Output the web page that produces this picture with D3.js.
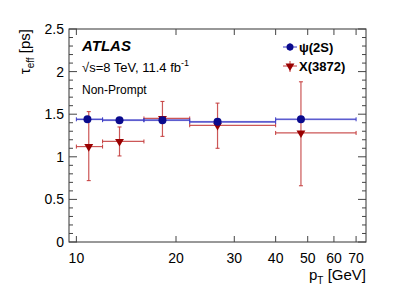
<!DOCTYPE html>
<html>
<head>
<meta charset="utf-8">
<script src="https://cdn.jsdelivr.net/npm/d3@7"></script>
<style>
  body { margin: 0; background: #fff; }
  text { font-family: "Liberation Sans", Arial, Helvetica, sans-serif; }
</style>
</head>
<body>
<div id="chart"></div>
<script>
// pT bins [GeV]
var binLo = [10, 12, 16, 22, 40];
var binHi = [12, 16, 22, 40, 70];

// psi(2S)
var psiPt = [10.8, 13.5, 18.2, 26.7, 47.7];
var psiTau = [1.44, 1.43, 1.43, 1.41, 1.44];
var psiErr = [0.03, 0.02, 0.02, 0.02, 0.03];

// X(3872)
var xPt = [10.9, 13.5, 18.2, 26.7, 47.7];
var xTau = [1.12, 1.18, 1.45, 1.37, 1.28];
var xErrUp = [0.41, 0.17, 0.20, 0.26, 0.60];
var xErrDn = [0.40, 0.17, 0.21, 0.27, 0.62];

var xTicks = [10, 20, 30, 40, 50, 60, 70];
var yTicks = [0, 0.5, 1, 1.5, 2, 2.5];

var W = 407, H = 292;
var margin = {left: 69, right: 41, top: 29, bottom: 50};
var iw = W - margin.left - margin.right, ih = H - margin.top - margin.bottom;

var svg = d3.select("#chart").append("svg").attr("width", W).attr("height", H);
var g = svg.append("g").attr("transform", "translate(" + margin.left + "," + margin.top + ")");

var x = d3.scaleLog().domain([9.5, 75]).range([0, iw]);
var y = d3.scaleLinear().domain([0, 2.5]).range([ih, 0]);

// frame
g.append("rect").attr("width", iw).attr("height", ih)
  .attr("fill", "none").attr("stroke", "#333").attr("stroke-width", 1);

// y ticks (left and right)
var yMinor = d3.range(0, 2.51, 0.1);
yMinor.forEach(function(v) {
  var major = Math.abs(v * 2 - Math.round(v * 2)) < 1e-6;
  var len = major ? 8 : 4;
  g.append("line").attr("x1", 0).attr("x2", len).attr("y1", y(v)).attr("y2", y(v)).attr("stroke", "#444");
  g.append("line").attr("x1", iw).attr("x2", iw - len).attr("y1", y(v)).attr("y2", y(v)).attr("stroke", "#444");
});
g.selectAll(".ylab").data(yTicks).enter().append("text")
  .attr("x", -5).attr("y", d => y(d) + 5)
  .attr("text-anchor", "end").attr("font-size", 14).text(d => d);

// x ticks (bottom and top)
xTicks.forEach(function(v) {
  g.append("line").attr("x1", x(v)).attr("x2", x(v)).attr("y1", ih).attr("y2", ih - 6).attr("stroke", "#444");
  g.append("line").attr("x1", x(v)).attr("x2", x(v)).attr("y1", 0).attr("y2", 6).attr("stroke", "#444");
});
g.selectAll(".xlab").data(xTicks).enter().append("text")
  .attr("x", d => x(d)).attr("y", ih + 21)
  .attr("text-anchor", "middle").attr("font-size", 14).text(d => d);

// axis titles
var xt = svg.append("text").attr("x", margin.left + iw).attr("y", H - 12)
  .attr("text-anchor", "end").attr("font-size", 15);
xt.append("tspan").text("p");
xt.append("tspan").attr("font-size", 10).attr("dy", 4).text("T");
xt.append("tspan").attr("dy", -4).text(" [GeV]");

var yt = svg.append("text").attr("transform", "translate(30," + margin.top + ") rotate(-90)")
  .attr("text-anchor", "end").attr("font-size", 15);
yt.append("tspan").text("τ");
yt.append("tspan").attr("font-size", 10).attr("dy", 4).text("eff");
yt.append("tspan").attr("dy", -4).text(" [ps]");

// X(3872) points
var red = "#c43a3a";
var xs = g.append("g");
xTau.forEach(function(t, i) {
  var cy = y(t);
  xs.append("line").attr("x1", x(binLo[i])).attr("x2", x(binHi[i])).attr("y1", cy).attr("y2", cy)
    .attr("stroke", red).attr("stroke-width", 1.2).attr("opacity", 0.85);
  xs.append("line").attr("x1", x(xPt[i])).attr("x2", x(xPt[i])).attr("y1", y(t + xErrUp[i])).attr("y2", y(t - xErrDn[i]))
    .attr("stroke", red).attr("stroke-width", 1.2).attr("opacity", 0.85);
  [y(t + xErrUp[i]), y(t - xErrDn[i])].forEach(function(yy) {
    xs.append("line").attr("x1", x(xPt[i]) - 2).attr("x2", x(xPt[i]) + 2).attr("y1", yy).attr("y2", yy).attr("stroke", red);
  });
  [x(binLo[i]), x(binHi[i])].forEach(function(xx) {
    xs.append("line").attr("x1", xx).attr("x2", xx).attr("y1", cy - 2).attr("y2", cy + 2).attr("stroke", red);
  });
});

// psi(2S) points
var blue = "#3b3bc4";
var ps = g.append("g");
psiTau.forEach(function(t, i) {
  var cy = y(t);
  ps.append("rect").attr("x", x(binLo[i])).attr("width", x(binHi[i]) - x(binLo[i]))
    .attr("y", y(t + 0.012)).attr("height", y(t - 0.012) - y(t + 0.012))
    .attr("fill", "#9a9ae6").attr("opacity", 0.6);
  ps.append("line").attr("x1", x(binLo[i])).attr("x2", x(binHi[i])).attr("y1", cy).attr("y2", cy)
    .attr("stroke", blue).attr("stroke-width", 1.1);
  ps.append("line").attr("x1", x(psiPt[i])).attr("x2", x(psiPt[i])).attr("y1", y(t + psiErr[i])).attr("y2", y(t - psiErr[i]))
    .attr("stroke", blue);
  [x(binLo[i]), x(binHi[i])].forEach(function(xx) {
    ps.append("line").attr("x1", xx).attr("x2", xx).attr("y1", cy - 2).attr("y2", cy + 2).attr("stroke", blue);
  });
});

var tri = d3.symbol().type(d3.symbolTriangle).size(34);
xs.selectAll(".m").data(xTau).enter().append("path")
  .attr("d", tri).attr("fill", "#990000")
  .attr("transform", (d, i) => "translate(" + x(xPt[i]) + "," + y(d) + ") rotate(180)");
ps.selectAll(".m").data(psiTau).enter().append("circle")
  .attr("cx", (d, i) => x(psiPt[i])).attr("cy", d => y(d)).attr("r", 4)
  .attr("fill", "#0a0a8c");

// labels
svg.append("text").attr("x", 82).attr("y", 51).attr("font-size", 15)
  .attr("font-weight", "bold").attr("font-style", "italic").text("ATLAS");
var en = svg.append("text").attr("x", 82).attr("y", 72).attr("font-size", 13);
en.append("tspan").text("√s=8 TeV, 11.4 fb");
en.append("tspan").attr("font-size", 9).attr("dy", -6).text("-1");
svg.append("text").attr("x", 82).attr("y", 94).attr("font-size", 12).text("Non-Prompt");

// legend
var lg = svg.append("g");
lg.append("line").attr("x1", 283).attr("x2", 297).attr("y1", 47).attr("y2", 47).attr("stroke", blue);
lg.append("line").attr("x1", 290).attr("x2", 290).attr("y1", 43).attr("y2", 51).attr("stroke", blue);
lg.append("circle").attr("cx", 290).attr("cy", 47).attr("r", 3.5).attr("fill", "#0a0a8c");
lg.append("text").attr("x", 299).attr("y", 52).attr("font-size", 13).attr("font-weight", "bold").text("ψ(2S)");
lg.append("line").attr("x1", 283).attr("x2", 297).attr("y1", 66).attr("y2", 66).attr("stroke", red);
lg.append("line").attr("x1", 290).attr("x2", 290).attr("y1", 61).attr("y2", 72).attr("stroke", red);
lg.append("path").attr("d", tri).attr("fill", "#990000").attr("transform", "translate(290,66) rotate(180)");
lg.append("text").attr("x", 299).attr("y", 71).attr("font-size", 13).attr("font-weight", "bold").text("X(3872)");
</script>
</body>
</html>
